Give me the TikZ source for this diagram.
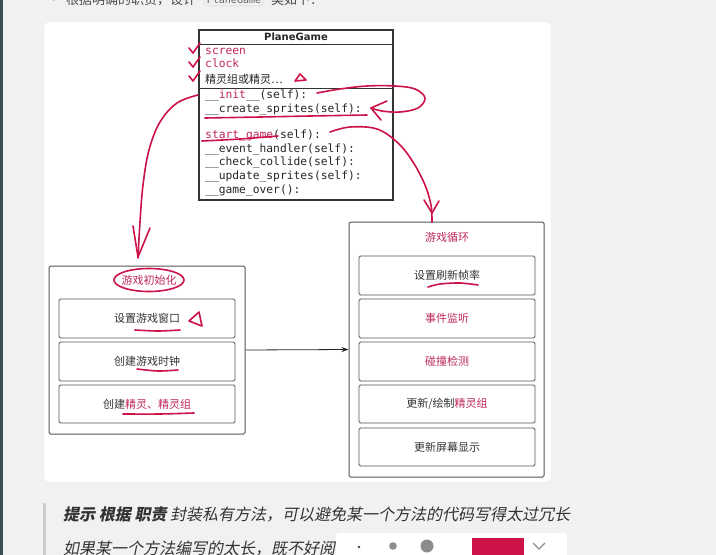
\documentclass[tikz,border=0pt]{standalone}
\usepackage{fontspec}
\setmainfont{Noto Sans CJK SC}
\newfontfamily\cjk{Noto Sans CJK SC}
\newfontfamily\cjkit{Noto Sans CJK SC}[FakeSlant=0.2]
\newfontfamily\mono{DejaVu Sans Mono}
\newfontfamily\titlef{DejaVu Sans}
\usetikzlibrary{arrows.meta}
\definecolor{pinktxt}{RGB}{190,40,95}
\definecolor{annot}{RGB}{205,18,72}
\definecolor{bgc}{RGB}{241,241,241}
\definecolor{boxc}{RGB}{85,85,85}
\definecolor{stripc}{RGB}{60,78,78}
\tikzset{
  obox/.style={draw=boxc, line width=1pt, rounded corners=1.5pt, inner sep=0pt},
  ibox/.style={draw=boxc, line width=0.9pt, rounded corners=1.5pt, minimum width=176, minimum height=39, inner sep=0pt, font=\cjk\fontsize{11}{13}\selectfont, text=black!80},
  mtext/.style={font=\mono\fontsize{11.3}{12}\selectfont, inner sep=0pt, anchor=west, text height=8pt, text depth=2.5pt, text=black!85},
  ctext/.style={font=\cjk\fontsize{11}{13}\selectfont, inner sep=0pt, text=black!85},
  note/.style={draw=annot, line width=1.6pt, line cap=round, line join=round},
  qtext/.style={font=\cjkit\fontsize{16}{18}\selectfont, inner sep=0pt, anchor=west, text=black!80}
}
\begin{document}
\begin{tikzpicture}[x=1pt, y=-1pt]
\useasboundingbox (0,0) rectangle (716,555);
\clip (0,0) rectangle (716,555);
% page background
\fill[bgc] (0,0) rectangle (716,555);
\fill[stripc] (0,0) rectangle (3,555);
% top line (cut off)
\node[font=\cjk\fontsize{13}{15}\selectfont, inner sep=0pt, anchor=west, text=black!70] (topline) at (47,0) {•\ \ 根据明确的职责，设计};
\node[font=\mono\fontsize{10}{12}\selectfont, fill=black!6, draw=black!15, rounded corners=2pt, inner sep=2pt, text=black!60] (topcode) at (234,0) {PlaneGame};
\node[font=\cjk\fontsize{13}{15}\selectfont, inner sep=0pt, anchor=west, text=black!70] (topend) at (271,0) {类如下：};
% card
\fill[white, draw=black!8, rounded corners=4pt] (44,22) rectangle (551,482);

% UML class box
\node[draw=black!80, line width=1.1pt, minimum width=194, minimum height=170, inner sep=0pt] (uml) at (296,115) {};
\draw[black!80, line width=1pt] (199,44) -- (393,44);
\draw[black!80, line width=1pt] (199,88) -- (393,88);
\node[font=\titlef\bfseries\fontsize{10}{12}\selectfont, inner sep=0pt, text=black!85] (title) at (296,37) {PlaneGame};
\node[mtext] (a1) at (205,52) {\textcolor{pinktxt}{screen}};
\node[mtext] (a2) at (205,65) {\textcolor{pinktxt}{clock}};
\node[ctext, anchor=west] (a3) at (205,79) {精灵组或精灵…};
\node[mtext] (m1) at (205,96) {\_\_\textcolor{pinktxt}{init}\_\_(self):};
\node[mtext] (m2) at (205,110) {\_\_create\_sprites(self):};
\node[mtext] (m3) at (205,136) {\textcolor{pinktxt}{start\_game}(self):};
\node[mtext] (m4) at (205,150) {\_\_event\_handler(self):};
\node[mtext] (m5) at (205,163) {\_\_check\_collide(self):};
\node[mtext] (m6) at (205,177) {\_\_update\_sprites(self):};
\node[mtext] (m7) at (205,191) {\_\_game\_over():};

% left container
\node[obox, minimum width=196, minimum height=168] (init) at (147,350) {};
\node[ctext, text=pinktxt] (initt) at (149,280) {游戏初始化};
\node[ibox] (i1) at (147,318.5) {设置游戏窗口};
\node[ibox] (i2) at (147,361.5) {创建游戏时钟};
\node[ibox, minimum height=38] (i3) at (147,404) {创建\textcolor{pinktxt}{精灵、精灵组}};

% right container
\node[obox, minimum width=195, minimum height=255] (loop) at (446.5,349.5) {};
\node[ctext, text=pinktxt] (loopt) at (447,237) {游戏循环};
\node[ibox] (r1) at (447,275.5) {设置刷新帧率};
\node[ibox, text=pinktxt] (r2) at (447,318.5) {事件监听};
\node[ibox, text=pinktxt] (r3) at (447,361.5) {碰撞检测};
\node[ibox, minimum height=38] (r4) at (447,404) {更新/绘制\textcolor{pinktxt}{精灵组}};
\node[ibox, minimum height=38] (r5) at (447,447) {更新屏幕显示};

% connector
\draw[black!85, line width=0.8pt, -{Stealth[length=7pt,width=5pt]}] (init.east) -- (loop.west);

% handwritten annotations
\draw[note] (189,48) -- (193,53) -- (200,43);
\draw[note] (189,62) -- (193,67) -- (200,57);
\draw[note] (189,76) -- (193,81) -- (200,71);
\draw[note] (295,81) -- (300,74) -- (306,80) -- cycle;
\draw[note] plot[smooth, tension=0.6] coordinates {(317,93) (340,89) (367,86) (395,86) (415,89) (425,98) (418,108) (400,112) (382,111) (371,108)};
\draw[note] (387,101) -- (371,108) -- (381,120);
\draw[note] plot[smooth, tension=0.5] coordinates {(205,118) (260,117) (310,116) (367,115)};
\draw[note] plot[smooth, tension=0.5] coordinates {(202,141) (240,139) (278,136)};
\draw[note] plot[smooth, tension=0.6] coordinates {(330,132) (350,127) (377,129) (398,143) (413,162) (425,185) (431,205) (432,222)};
\draw[note] (424,200) -- (432,213) -- (439,201);
\draw[note] plot[smooth, tension=0.6] coordinates {(198,95) (177,103) (160,122) (149,150) (143,185) (140,222) (138,258)};
\draw[note] (133,226) -- (138,257) -- (150,228);
\draw[note] (149,280) ellipse [x radius=35, y radius=11.5];
\draw[note] (189,321) -- (199,312) -- (202,326) -- cycle;
\draw[note] plot[smooth] coordinates {(135,330) (158,331) (180,330)};
\draw[note] plot[smooth] coordinates {(137,369) (158,371) (178,370)};
\draw[note] plot[smooth] coordinates {(123,414) (160,414) (194,413)};
\draw[note] plot[smooth] coordinates {(428,287) (440,284) (460,283) (478,285)};

% blockquote below
\fill[black!20] (43,503) rectangle (46,555);
\node[qtext] (tip1) at (63,515) {{\bfseries 提示 根据 职责} 封装私有方法，可以避免某一个方法的代码写得太过冗长};
\node[qtext] (tip2) at (63,549) {如果某一个方法编写的太长，既不好阅};
% toolbar overlay
\fill[white, rounded corners=3pt] (336,533) rectangle (567,560);
\fill[black!75] (359,547) circle (1.3);
\fill[black!45] (393,546) circle (3.8);
\fill[black!45] (427,546) circle (6.5);
\fill[annot] (472,538) rectangle (524,556);
\draw[black!45, line width=1.2pt] (533,543) -- (539,549) -- (545,543);
\end{tikzpicture}
\end{document}
